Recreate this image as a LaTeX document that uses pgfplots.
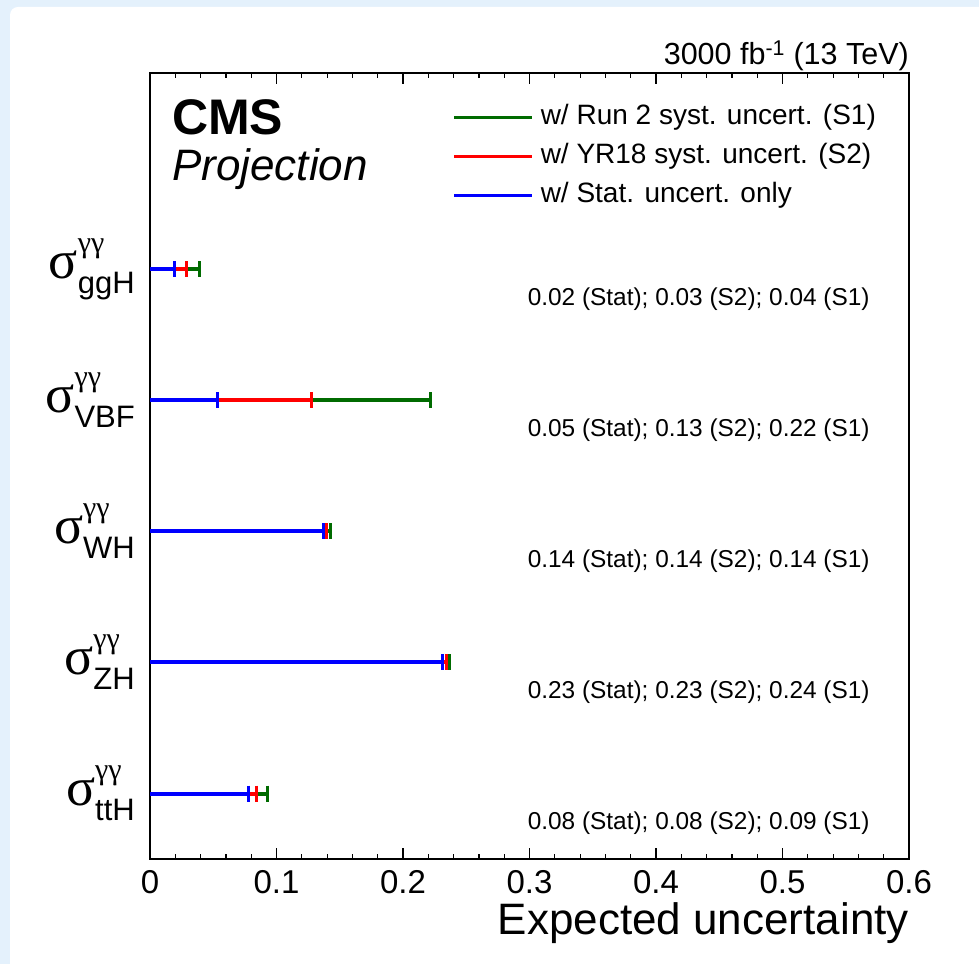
\documentclass[border=0pt]{standalone}
\usepackage{fontspec}
\setmainfont{Liberation Sans}
\newfontfamily\serif{Liberation Serif}
\usepackage{pgfplots}
\pgfplotsset{compat=1.18}
\definecolor{rgreen}{rgb}{0,0.42,0}
\definecolor{rred}{rgb}{1,0,0}
\definecolor{rblue}{rgb}{0,0,1}
\definecolor{slide}{HTML}{E4F1FC}
\newcommand{\siglab}[1]{{\serif\fontsize{54}{54}\selectfont σ}\rlap{\raisebox{26pt}{\serif\fontsize{30}{30}\selectfont γγ}}\raisebox{-15pt}{\fontsize{31}{31}\selectfont #1}}
\pgfplotsset{errbar/.style={line width=4pt, mark=|, mark indices={2}, mark size=8pt, mark options={line width=3pt, solid}}}
\begin{document}
\begin{tikzpicture}
\useasboundingbox (0pt,0pt) rectangle (979pt,964pt);
\begin{scope}
\clip (0pt,0pt) rectangle (979pt,964pt);
\fill[slide] (0pt,0pt) rectangle (979pt,964pt);
\fill[white, rounded corners=8pt] (10pt,-20pt) rectangle (999pt,957pt);
\end{scope}
\begin{axis}[
 at={(150pt,105pt)}, anchor=south west, scale only axis, width=759pt, height=786pt,
 xmin=0, xmax=0.6, ymin=0, ymax=6,
 axis line style={line width=1.6pt},
 xtick={0,0.1,0.2,0.3,0.4,0.5,0.6},
 xticklabels={0,0.1,0.2,0.3,0.4,0.5,0.6},
 minor x tick num=4,
 tick align=inside,
 major tick length=11pt, minor tick length=5.5pt,
 x tick style={line width=1.2pt, black},
 xticklabel style={font=\fontsize{33}{33}\selectfont, inner sep=0pt, yshift=-11pt},
 ytick={0.5,1.5,2.5,3.5,4.5},
 yticklabels={\siglab{ttH},\siglab{ZH},\siglab{WH},\siglab{VBF},\siglab{ggH}},
 y tick style={draw=none},
 yticklabel style={inner sep=0pt, xshift=-15pt, anchor=east},
 xlabel={Expected uncertainty},
 xlabel style={font=\fontsize{44}{44}\selectfont, at={(rel axis cs:1,0)}, anchor=north east, inner sep=0pt, yshift=-43pt},
 legend image code/.code={\draw[#1] (0pt,0pt) -- (78pt,0pt);},
 legend style={at={(rel axis cs:0.398,0.961)}, anchor=north west, draw=none, fill=none, inner sep=0pt,
   font=\fontsize{28}{30}\selectfont, row sep=12pt, column sep=7pt,
   nodes={inner sep=0pt, text height=21pt, text depth=6pt}},
 legend cell align=left,
 clip=false,
]
\addlegendimage{rgreen, line width=3.5pt}
\addlegendentry{w/ Run 2 syst. uncert. (S1)}
\addlegendimage{rred, line width=3.5pt}
\addlegendentry{w/ YR18 syst. uncert. (S2)}
\addlegendimage{rblue, line width=3.5pt}
\addlegendentry{w/ Stat. uncert. only}

% ggH
\addplot[rgreen, errbar, forget plot] coordinates {(0,4.5) (0.0395,4.5)};
\addplot[rred, errbar, forget plot] coordinates {(0,4.5) (0.029,4.5)};
\addplot[rblue, errbar, forget plot] coordinates {(0,4.5) (0.0195,4.5)};
% VBF
\addplot[rgreen, errbar, forget plot] coordinates {(0,3.5) (0.222,3.5)};
\addplot[rred, errbar, forget plot] coordinates {(0,3.5) (0.128,3.5)};
\addplot[rblue, errbar, forget plot] coordinates {(0,3.5) (0.053,3.5)};
% WH
\addplot[rgreen, errbar, forget plot] coordinates {(0,2.5) (0.1423,2.5)};
\addplot[rred, errbar, forget plot] coordinates {(0,2.5) (0.1399,2.5)};
\addplot[rblue, errbar, forget plot] coordinates {(0,2.5) (0.1368,2.5)};
% ZH
\addplot[rgreen, errbar, forget plot] coordinates {(0,1.5) (0.2365,1.5)};
\addplot[rred, errbar, forget plot] coordinates {(0,1.5) (0.234,1.5)};
\addplot[rblue, errbar, forget plot] coordinates {(0,1.5) (0.2316,1.5)};
% ttH
\addplot[rgreen, errbar, forget plot] coordinates {(0,0.5) (0.093,0.5)};
\addplot[rred, errbar, forget plot] coordinates {(0,0.5) (0.0838,0.5)};
\addplot[rblue, errbar, forget plot] coordinates {(0,0.5) (0.0775,0.5)};

\node[anchor=east, font=\fontsize{24.4}{25}\selectfont, inner sep=0pt] at (axis cs:0.569,4.27) {0.02 (Stat); 0.03 (S2); 0.04 (S1)};
\node[anchor=east, font=\fontsize{24.4}{25}\selectfont, inner sep=0pt] at (axis cs:0.569,3.27) {0.05 (Stat); 0.13 (S2); 0.22 (S1)};
\node[anchor=east, font=\fontsize{24.4}{25}\selectfont, inner sep=0pt] at (axis cs:0.569,2.27) {0.14 (Stat); 0.14 (S2); 0.14 (S1)};
\node[anchor=east, font=\fontsize{24.4}{25}\selectfont, inner sep=0pt] at (axis cs:0.569,1.27) {0.23 (Stat); 0.23 (S2); 0.24 (S1)};
\node[anchor=east, font=\fontsize{24.4}{25}\selectfont, inner sep=0pt] at (axis cs:0.569,0.27) {0.08 (Stat); 0.08 (S2); 0.09 (S1)};

\node[anchor=base west, inner sep=0pt, font=\bfseries\fontsize{50}{50}\selectfont] at (axis cs:0.0174,5.527) {CMS};
\node[anchor=base west, inner sep=0pt, font=\itshape\fontsize{44}{44}\selectfont] at (axis cs:0.0174,5.183) {Projection};
\node[anchor=base east, inner sep=0pt, font=\fontsize{30.5}{30.5}\selectfont] at (rel axis cs:1.0,1.0102) {3000 fb\textsuperscript{-1} (13 TeV)};
\end{axis}
\end{tikzpicture}
\end{document}
